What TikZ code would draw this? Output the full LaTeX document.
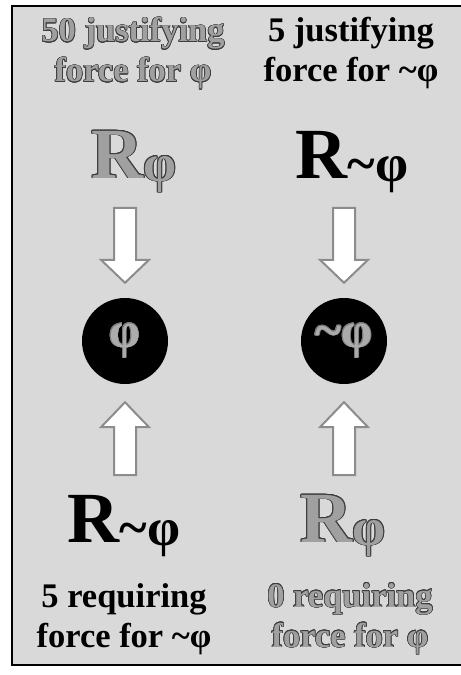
\documentclass[tikz,border=0pt]{standalone}
\usepackage{fontspec}
\setmainfont{Liberation Serif}
\usepackage[copies]{contour}
\contourlength{0.6pt}
\contournumber{16}
\definecolor{bggray}{HTML}{D9D9D9}
\definecolor{txtgray}{HTML}{A0A0A0}
\definecolor{outl}{HTML}{3C3C3C}
\definecolor{arrowgray}{HTML}{8C8C8C}
\definecolor{phigray}{HTML}{ABABAB}
\definecolor{phioutl}{HTML}{7A7A7A}
\newcommand{\gtx}[1]{\textcolor{txtgray}{\contour{outl}{#1}}}
\newcommand{\tl}{\char"7E}
\tikzset{
  lbl/.style={inner sep=0pt, align=center, anchor=base, font=\bfseries\fontsize{34.5bp}{40bp}\selectfont},
  rlbl/.style={inner sep=0pt, anchor=base, font=\bfseries\fontsize{72bp}{72bp}\selectfont},
  claim/.style={circle, fill=black, minimum size=86bp, inner sep=0pt, text=phigray, font=\bfseries\fontsize{50bp}{50bp}\selectfont},
  blockarrow/.style={draw=arrowgray, fill=white, line width=2bp, line join=miter},
  pics/downarrow/.style={code={\draw[blockarrow] (-11,-75) -- (11,-75) -- (11,-23) -- (24,-23) -- (0,0) -- (-24,-23) -- (-11,-23) -- cycle;}},
  pics/uparrow/.style={code={\draw[blockarrow] (-11,73) -- (11,73) -- (11,25) -- (24,25) -- (0,0) -- (-24,25) -- (-11,25) -- cycle;}}
}
\newcommand{\subs}[1]{\raisebox{-3bp}{\fontsize{53bp}{53bp}\selectfont #1}}
\begin{document}
\begin{tikzpicture}[x=1bp,y=-1bp]
\useasboundingbox (0,0) rectangle (461,675);
\fill[white] (0,0) rectangle (461,675);
\draw[line width=1.5bp, fill=bggray] (12,6) rectangle (480,665);

% top texts (base anchor = last line's baseline)
\node[lbl] (tl) at (133,82) {\gtx{50 justifying}\\\gtx{force for φ}};
\node[lbl] (tr) at (351,82) {5 justifying\\force for \tl φ};

% top R labels
\node[rlbl] (rtl) at (134,178) {\gtx{R}\gtx{\subs{φ}}};
\node[rlbl] (rtr) at (352,178) {R\subs{\tl φ}};

% claims
\node[claim] (c1) at (125,341) {\contour{phioutl}{φ}};
\node[claim] (c2) at (344,341) {\contour{phioutl}{\tl φ}};

% arrows
\pic at ([yshift=15bp]c1.north) {downarrow};
\pic at ([yshift=15bp]c2.north) {downarrow};
\pic at ([yshift=-18bp]c1.south) {uparrow};
\pic at ([yshift=-18bp]c2.south) {uparrow};

% bottom R labels
\node[rlbl] (rbl) at (124,542) {R\subs{\tl φ}};
\node[rlbl] (rbr) at (343,542) {\gtx{R}\gtx{\subs{φ}}};

% bottom texts
\node[lbl] (bl) at (124,647) {5 requiring\\force for \tl φ};
\node[lbl] (br) at (350,647) {\gtx{0 requiring}\\\gtx{force for φ}};
\end{tikzpicture}
\end{document}
